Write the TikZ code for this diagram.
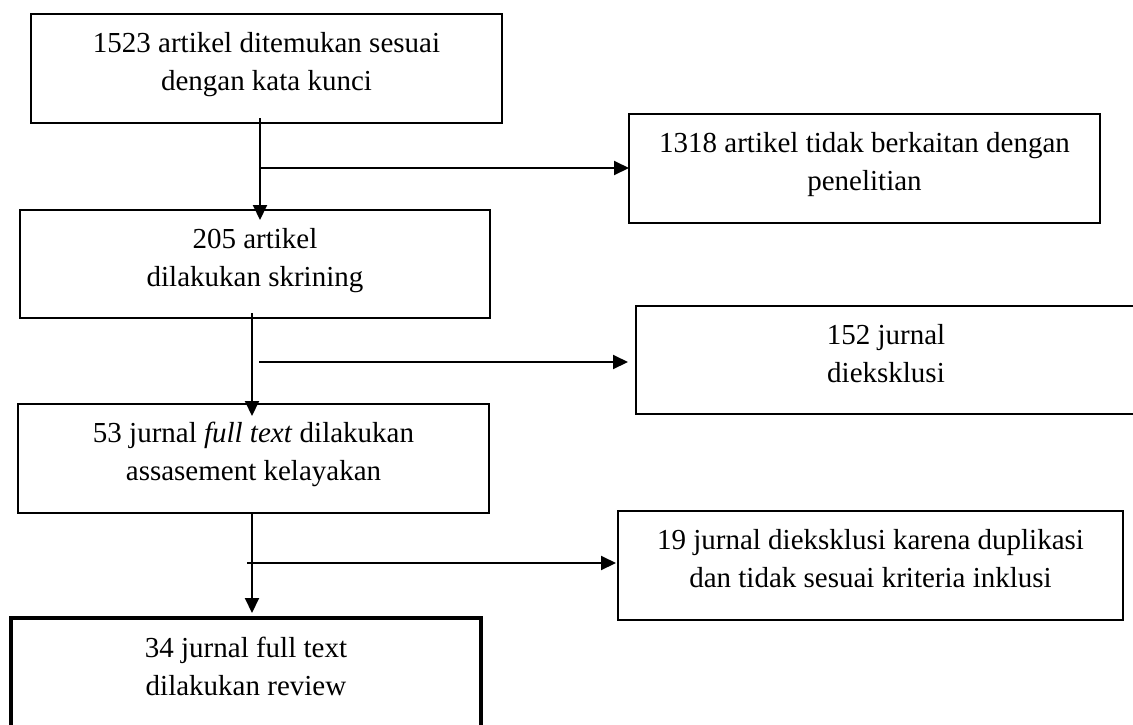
\documentclass[tikz,border=0pt]{standalone}
\usepackage{fontspec}
\setmainfont{Liberation Serif}
\usetikzlibrary{arrows.meta,calc}
\begin{document}
\begin{tikzpicture}[x=1pt,y=-1pt,
  box/.style={draw, line width=1.8pt, inner sep=0pt, outer sep=0pt},
  thickbox/.style={draw, line width=3.8pt, inner sep=0pt, outer sep=0pt},
  txt/.style={inner sep=0pt, anchor=base, font=\fontsize{29}{38}\selectfont},
  arr/.style={line width=2pt, -{Triangle[length=15pt,width=14pt]}}]
\useasboundingbox (0,0) rectangle (1133,724);
\fill[white] (0,0) rectangle (1133,724);
\clip (0,0) rectangle (1133,724);

% boxes
\node[box, minimum width=471pt, minimum height=109pt] (b1) at (266.5,68.5) {};
\node[box, minimum width=471pt, minimum height=109pt] (b2) at (864.5,168.5) {};
\node[box, minimum width=470pt, minimum height=108pt] (b3) at (255,264) {};
\node[box, minimum width=500pt, minimum height=108pt] (b4) at (886,360) {};
\node[box, minimum width=471pt, minimum height=109pt] (b5) at (253.5,458.5) {};
\node[box, minimum width=505pt, minimum height=109pt] (b6) at (870.5,565.5) {};
\node[thickbox, minimum width=470pt, minimum height=142pt] (b7) at (246,689) {};

% texts
\node[txt] (t1) at (266.5,52) {\begin{tabular}[t]{@{}c@{}}1523 artikel ditemukan sesuai\\dengan kata kunci\end{tabular}};
\node[txt] (t2) at (864.5,152) {\begin{tabular}[t]{@{}c@{}}1318 artikel tidak berkaitan dengan\\penelitian\end{tabular}};
\node[txt] (t3) at (255,248) {\begin{tabular}[t]{@{}c@{}}205 artikel\\dilakukan skrining\end{tabular}};
\node[txt] (t4) at (886,344) {\begin{tabular}[t]{@{}c@{}}152 jurnal\\dieksklusi\end{tabular}};
\node[txt] (t5) at (253.5,442) {\begin{tabular}[t]{@{}c@{}}53 jurnal \textit{full text} dilakukan\\assasement kelayakan\end{tabular}};
\node[txt] (t6) at (870.5,549) {\begin{tabular}[t]{@{}c@{}}19 jurnal dieksklusi karena duplikasi\\dan tidak sesuai kriteria inklusi\end{tabular}};
\node[txt] (t7) at (246,657) {\begin{tabular}[t]{@{}c@{}}34 jurnal full text\\dilakukan review\end{tabular}};

% junctions
\coordinate (j1) at (260,168);
\coordinate (j2) at (252,362);
\coordinate (j3) at (252,563);

% connectors
\draw[arr] ($(b1.south -| j1)+(0,-5)$) -- ($(b3.north -| j1)+(0,10)$);
\draw[arr] (j1) -- (j1 -| b2.west);
\draw[arr] ($(b3.south -| j2)+(0,-5)$) -- ($(b5.north -| j2)+(0,12)$);
\draw[arr] ($(j2)+(7,0)$) -- ($(j2 -| b4.west)+(-8,0)$);
\draw[arr] ($(b5.south -| j3)+(0,-1)$) -- ($(b7.north -| j3)+(0,-5)$);
\draw[arr] ($(j3)+(-5,0)$) -- ($(j3 -| b6.west)+(-2,0)$);
\end{tikzpicture}
\end{document}
